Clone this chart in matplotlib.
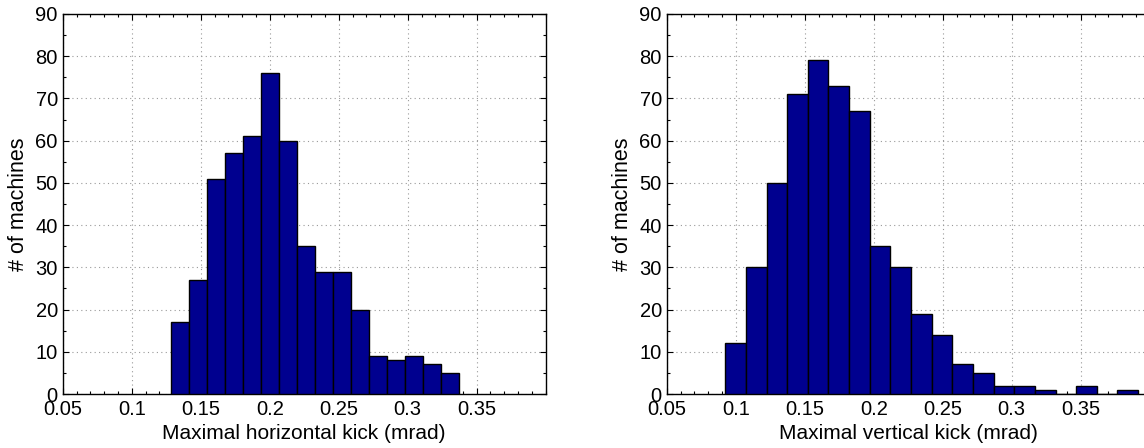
import numpy as np
import matplotlib
matplotlib.use("Agg")
import matplotlib.pyplot as plt
from matplotlib.ticker import MultipleLocator

plt.rcParams['font.family'] = ['Liberation Sans', 'DejaVu Sans']

# Data
h_edge_lo, h_edge_hi = 0.1283, 0.3370
h_counts = [17, 27, 51, 57, 61, 76, 60, 35, 29, 29, 20, 9, 8, 9, 7, 5]
v_edge_lo, v_edge_hi = 0.0924, 0.3916
v_counts = [12, 30, 50, 71, 79, 73, 67, 35, 30, 19, 14, 7, 5, 2, 2, 1, 0, 2, 0, 1]
x_ticks = [0.05, 0.1, 0.15, 0.2, 0.25, 0.3, 0.35]
x_ticklabels = ['0.05', '0.1', '0.15', '0.2', '0.25', '0.3', '0.35']
y_ticks = [0, 10, 20, 30, 40, 50, 60, 70, 80, 90]
xlabels = ['Maximal horizontal kick (mrad)', 'Maximal vertical kick (mrad)']
ylabel = '# of machines'

W, H = 1144, 448
fig = plt.figure(figsize=(W / 100, H / 100), dpi=100)

bar_color = (0, 0, 0.5625)
axes_px = [(62.7, 14, 483, 380), (666.7, 14, 483, 380)]
datasets = [(h_edge_lo, h_edge_hi, h_counts), (v_edge_lo, v_edge_hi, v_counts)]

for (x0, y0, w, h), (lo, hi, counts), xl in zip(axes_px, datasets, xlabels):
    ax = fig.add_axes([x0 / W, 1 - (y0 + h) / H, w / W, h / H])
    edges = np.linspace(lo, hi, len(counts) + 1)
    ax.bar(edges[:-1], counts, width=np.diff(edges), align='edge',
           color=bar_color, edgecolor='black', linewidth=1.0, zorder=3)
    ax.set_xlim(0.05, 0.4)
    ax.set_ylim(0, 90)
    ax.set_xticks(x_ticks)
    ax.set_xticklabels(x_ticklabels)
    ax.set_yticks(y_ticks)
    ax.xaxis.set_minor_locator(MultipleLocator(0.01))
    ax.yaxis.set_minor_locator(MultipleLocator(5))
    ax.tick_params(which='both', direction='in', top=True, right=True,
                   labelsize=14.5, width=0.8)
    ax.tick_params(which='major', length=4)
    ax.tick_params(axis='x', which='major', pad=4.5)
    ax.tick_params(axis='y', which='major', pad=3.5)
    ax.tick_params(which='minor', length=2)
    ax.grid(True, which='major', linestyle=(0, (1, 3)), color='#999999',
            linewidth=0.8, zorder=0)
    ax.set_axisbelow(True)
    for s in ax.spines.values():
        s.set_linewidth(1.0)
    ax.set_xlabel(xl, fontsize=15)
    ax.set_ylabel(ylabel, fontsize=15.5)
    ax.xaxis.set_label_coords(0.5, -0.08)
    ax.yaxis.set_label_coords(-0.07, 0.5)

fig.savefig('out.png', dpi=100)
